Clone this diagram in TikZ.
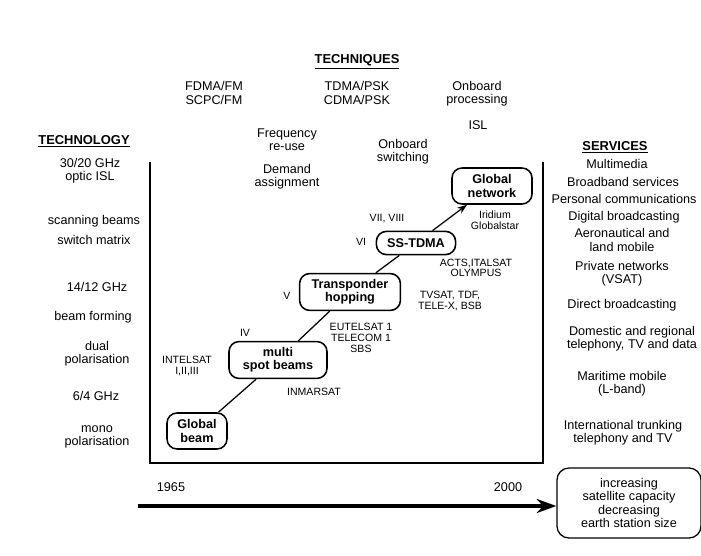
\documentclass[tikz,border=0pt]{standalone}
\usepackage{fontspec}
\setmainfont{Liberation Sans}
\usepackage{tikz}
\usetikzlibrary{arrows.meta,positioning}

\begin{document}
\begin{tikzpicture}[x=0.025cm,y=-0.025cm,
    txt/.style={align=center, inner sep=0pt, font=\fontsize{9}{9.3}\selectfont},
    small/.style={align=center, inner sep=0pt, font=\fontsize{7.5}{7.6}\selectfont},
    head/.style={inner sep=0pt, font=\bfseries\fontsize{9.2}{11}\selectfont},
    stagebox/.style={draw, line width=1.1pt, rounded corners=0.25cm, align=center,
        inner sep=0pt, font=\bfseries\fontsize{9}{9.3}\selectfont}]
\useasboundingbox[fill=white] (0,0) rectangle (701,556);

% Headings
\node[head] (techniques) at (357,62) {\underline{TECHNIQUES}};
\node[head] (technology) at (84,141) {\underline{TECHNOLOGY}};
\node[head] (services) at (615,147) {\underline{SERVICES}};

% Techniques
\node[txt] (fdma) at (214,93) {FDMA/FM\\SCPC/FM};
\node[txt] (tdma) at (357,93) {TDMA/PSK\\CDMA/PSK};
\node[txt] (proc) at (477,94) {Onboard\\processing};
\node[txt] (isl) at (478,125) {ISL};
\node[txt] (freq) at (287,140) {Frequency\\re-use};
\node[txt] (demand) at (287,177) {Demand\\assignment};
\node[txt] (switching) at (403,152) {Onboard\\switching};

% Technology
\node[txt] (ghz30) at (90,171) {30/20 GHz\\optic ISL};
\node[txt] (scan) at (94,221) {scanning beams};
\node[txt] (matrix) at (94,240) {switch matrix};
\node[txt] (ghz14) at (97,287) {14/12 GHz};
\node[txt] (forming) at (93,317) {beam forming};
\node[txt] (dual) at (97,354) {dual\\polarisation};
\node[txt] (ghz6) at (96,396) {6/4 GHz};
\node[txt] (mono) at (97,437) {mono\\polarisation};

% Services
\node[txt] (multimedia) at (617,164) {Multimedia};
\node[txt] (broadband) at (623,182) {Broadband services};
\node[txt] (personal) at (624,199) {Personal communications};
\node[txt] (digital) at (624,217) {Digital broadcasting};
\node[txt] (aero) at (622,240) {Aeronautical and\\land mobile};
\node[txt] (private) at (622,274) {Private networks\\(VSAT)};
\node[txt] (direct) at (622,305) {Direct broadcasting};
\node[txt] (domestic) at (632,339) {Domestic and regional\\telephony, TV and data};
\node[txt] (maritime) at (622,384) {Maritime mobile\\(L-band)};
\node[txt] (trunking) at (623,433) {International trunking\\telephony and TV};

% Frame
\draw[line width=1pt] (150,162) -- (150,463) -- (543,463) -- (543,162);

% Stages
\node[stagebox, minimum width=1.5cm, minimum height=0.9cm] (gbeam) at (197,431) {Global\\beam};
\node[stagebox, minimum width=2.45cm, minimum height=0.92cm] (spot) at (278,360) {multi\\spot beams};
\node[stagebox, minimum width=2.52cm, minimum height=0.92cm] (hop) at (350,292) {Transponder\\hopping};
\node[stagebox, minimum width=1.98cm, minimum height=0.58cm] (sstdma) at (416,243) {SS-TDMA};
\node[stagebox, minimum width=2cm, minimum height=0.9cm] (gnet) at (492,186) {Global\\network};

\draw[line width=0.9pt] (gbeam) -- (spot);
\draw[line width=0.9pt] (spot) -- (hop);
\draw[line width=0.9pt] (hop) -- (sstdma);
\draw[line width=0.9pt, -{Stealth[length=7pt,width=5pt]}] (sstdma) -- (gnet);

% Satellite labels
\node[small] (iv) at (245,333) {IV};
\node[small] (v) at (287,296) {V};
\node[small] (vi) at (361,242) {VI};
\node[small] (vii) at (387,219) {VII, VIII};
\node[small] (intelsat) at (187,366) {INTELSAT\\I,II,III};
\node[small] (inmarsat) at (314,392) {INMARSAT};
\node[small] (eutelsat) at (361,338) {EUTELSAT 1\\TELECOM 1\\SBS};
\node[small] (tvsat) at (450,301) {TVSAT, TDF,\\TELE-X, BSB};
\node[small] (acts) at (476,268) {ACTS,ITALSAT\\OLYMPUS};
\node[small] (iridium) at (495,220) {Iridium\\Globalstar};

% Time axis
\node[txt] (y1965) at (171,487) {1965};
\node[txt] (y2000) at (508,487) {2000};
\node[txt, draw, line width=0.9pt, rounded corners=0.3cm, minimum width=3.6cm,
    minimum height=1.75cm] (trend) at (629,503)
    {increasing\\satellite capacity\\decreasing\\earth station size};
\coordinate (tstart) at (138,506);
\draw[line width=3pt, -{Stealth[length=14pt,width=10pt]}] (tstart) -- (trend.west |- tstart);

\end{tikzpicture}
\end{document}
